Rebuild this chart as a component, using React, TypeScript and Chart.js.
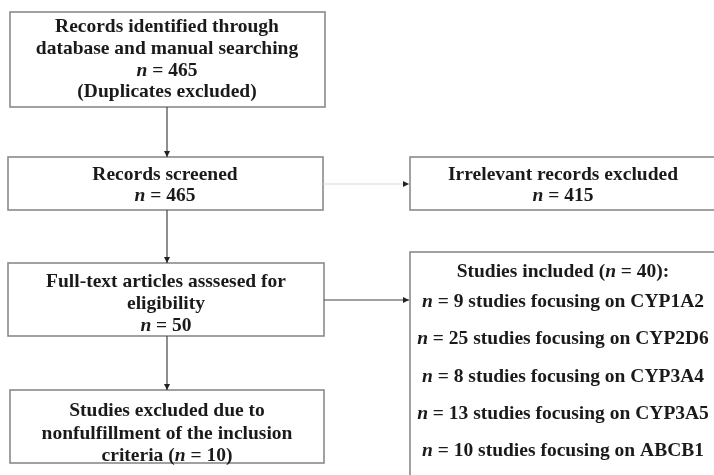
import React, { useEffect, useRef } from "react";
import { Chart, registerables } from "chart.js";

Chart.register(...registerables);

// ---- data ----
const identifiedCount = 465;
const screenedCount = 465;
const irrelevantCount = 415;
const assessedCount = 50;
const notEligibleCount = 10;
const includedCount = 40;
const genes = ["CYP1A2", "CYP2D6", "CYP3A4", "CYP3A5", "ABCB1"];
const geneStudies = [9, 25, 8, 13, 10];

const box1Lines = ["Records identified through", "database and manual searching", `n = ${identifiedCount}`, "(Duplicates excluded)"];
const box2Lines = ["Records screened", `n = ${screenedCount}`];
const box3Lines = ["Irrelevant records excluded", `n = ${irrelevantCount}`];
const box4Lines = ["Full-text articles asssesed for", "eligibility", `n = ${assessedCount}`];
const box5Lines = [`Studies included (n = ${includedCount}):`, ...genes.map((g, i) => `n = ${geneStudies[i]} studies focusing on ${g}`)];
const box6Lines = ["Studies excluded due to", "nonfulfillment of the inclusion", `criteria (n = ${notEligibleCount})`];

// ---- layout (in scale units) ----
const layout = {
  boxes: [
    { r: [10, 12, 325, 107], cx: 167, ys: [27, 49, 71, 92], lines: box1Lines },
    { r: [8, 157, 323, 210], cx: 165, ys: [175, 196], lines: box2Lines },
    { r: [410, 157, 720, 210], cx: 563, ys: [175, 196], lines: box3Lines },
    { r: [8, 263, 324, 336], cx: 166, ys: [282, 304, 326], lines: box4Lines },
    { r: [410, 252, 720, 480], cx: 563, ys: [272, 302, 339, 377, 414, 451], lines: box5Lines },
    { r: [10, 390, 324, 463], cx: 167, ys: [411, 434, 456], lines: box6Lines },
  ],
  arrows: [
    { a: [167, 107], b: [167, 157], color: "#444" },
    { a: [323, 184], b: [409, 184], color: "#d8d8d8" },
    { a: [167, 210], b: [167, 263], color: "#444" },
    { a: [324, 300], b: [409, 300], color: "#444" },
    { a: [167, 336], b: [167, 390], color: "#444" },
  ],
};

const FONT_FAMILY = "'Liberation Serif', 'Times New Roman', serif";
const FONT_SIZE = 19.5;

function runsOf(text: string) {
  const runs: { t: string; it: boolean }[] = [];
  const re = /(^|[\s(])n(?= =)/g;
  let last = 0;
  let m: RegExpExecArray | null;
  while ((m = re.exec(text))) {
    const idx = m.index + m[1].length;
    if (idx > last) runs.push({ t: text.slice(last, idx), it: false });
    runs.push({ t: "n", it: true });
    last = idx + 1;
  }
  if (last < text.length) runs.push({ t: text.slice(last), it: false });
  return runs;
}

const flowPlugin = {
  id: "flow",
  afterDraw(chart: any) {
    const ctx = chart.ctx as CanvasRenderingContext2D;
    const xs = chart.scales.x;
    const ys = chart.scales.y;
    const px = (v: number) => xs.getPixelForValue(v);
    const py = (v: number) => ys.getPixelForValue(v);
    ctx.save();
    ctx.fillStyle = "#ffffff";
    ctx.fillRect(0, 0, chart.width, chart.height);
    // boxes
    for (const b of layout.boxes) {
      const [x0, y0, x1, y1] = b.r;
      ctx.strokeStyle = "#8a8a8a";
      ctx.lineWidth = 1.6;
      ctx.strokeRect(px(x0), py(y0), px(x1) - px(x0), py(y1) - py(y0));
      ctx.fillStyle = "#1a1a1a";
      ctx.textBaseline = "middle";
      b.lines.forEach((line, i) => {
        const runs = runsOf(line);
        const fonts = runs.map((r) => `${r.it ? "italic " : ""}bold ${FONT_SIZE}px ${FONT_FAMILY}`);
        let total = 0;
        const widths = runs.map((r, k) => {
          ctx.font = fonts[k];
          const w = ctx.measureText(r.t).width;
          total += w;
          return w;
        });
        let x = px(b.cx) - total / 2;
        const y = py(b.ys[i]);
        ctx.textAlign = "left";
        runs.forEach((r, k) => {
          ctx.font = fonts[k];
          ctx.fillText(r.t, x, y);
          x += widths[k];
        });
      });
    }
    // arrows
    for (const ar of layout.arrows) {
      const ax = px(ar.a[0]), ay = py(ar.a[1]);
      const bx = px(ar.b[0]), by = py(ar.b[1]);
      ctx.strokeStyle = ar.color;
      ctx.lineWidth = 1.2;
      ctx.beginPath();
      ctx.moveTo(ax, ay);
      ctx.lineTo(bx, by);
      ctx.stroke();
      const ang = Math.atan2(by - ay, bx - ax);
      const L = 6, W = 3;
      ctx.fillStyle = "#222";
      ctx.beginPath();
      ctx.moveTo(bx, by);
      ctx.lineTo(bx - L * Math.cos(ang) + W * Math.sin(ang), by - L * Math.sin(ang) - W * Math.cos(ang));
      ctx.lineTo(bx - L * Math.cos(ang) - W * Math.sin(ang), by - L * Math.sin(ang) + W * Math.cos(ang));
      ctx.closePath();
      ctx.fill();
    }
    ctx.restore();
  },
};

export default function App() {
  const ref = useRef<HTMLCanvasElement | null>(null);
  useEffect(() => {
    if (!ref.current) return;
    const chart = new Chart(ref.current, {
      type: "scatter",
      data: { datasets: [{ data: [], pointRadius: 0 }] },
      options: {
        animation: false,
        responsive: false,
        events: [],
        layout: { padding: 0 },
        plugins: { legend: { display: false }, tooltip: { enabled: false }, title: { display: false } },
        scales: {
          x: { type: "linear", min: 0, max: 714, display: false },
          y: { type: "linear", min: 0, max: 475, reverse: true, display: false },
        },
      },
      plugins: [flowPlugin],
    });
    return () => chart.destroy();
  }, []);
  return (
    <div style={{ position: "absolute", left: 0, top: 0, width: 714, height: 475, background: "#fff" }}>
      <canvas ref={ref} width={714} height={475} style={{ display: "block" }} />
    </div>
  );
}
